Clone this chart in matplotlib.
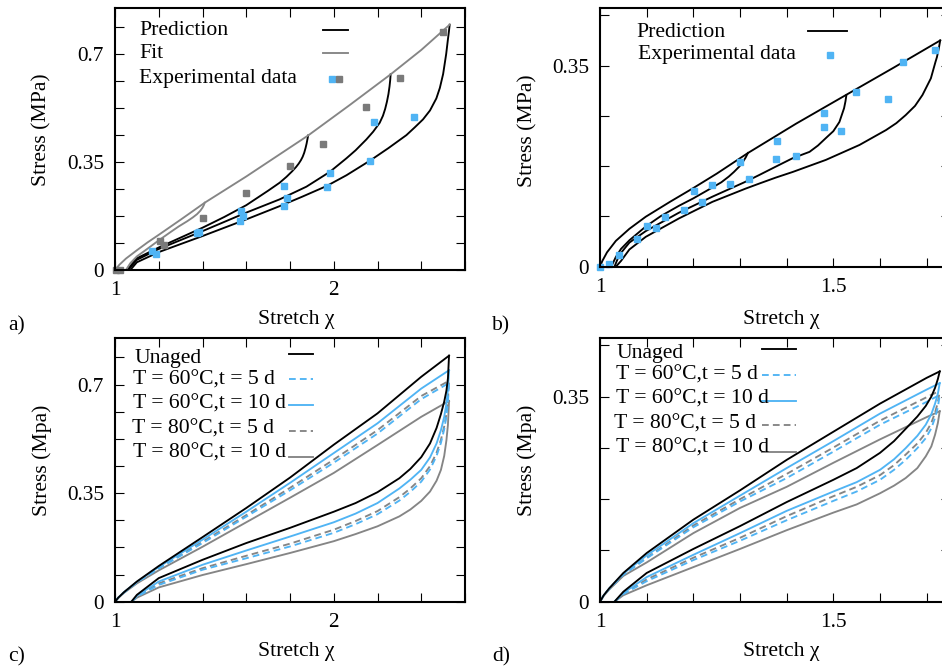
import matplotlib
matplotlib.use('Agg')
import matplotlib.pyplot as plt
from matplotlib.ticker import MultipleLocator, FuncFormatter

plt.rcParams['font.family'] = ['Liberation Serif', 'DejaVu Serif']
plt.rcParams['font.size'] = 15.6

BLACK = '#000000'
GRAY = '#858585'
BLUE = '#50b4f4'

# ---------------- panel a ----------------
A_FIT_LOAD_X = [1.0, 1.02, 1.05, 1.1, 1.15, 1.2, 1.3, 1.41, 1.6, 1.883, 2.07, 2.26, 2.4, 2.53]
A_FIT_LOAD_Y = [0, 0.017, 0.037, 0.064, 0.09, 0.114, 0.163, 0.218, 0.303, 0.436, 0.533, 0.634, 0.713, 0.795]
A_FIT_UNLOAD_X = [1.41, 1.406, 1.4, 1.39, 1.375, 1.355, 1.33, 1.291, 1.25, 1.2, 1.139, 1.1, 1.07, 1.05]
A_FIT_UNLOAD_Y = [0.218, 0.21, 0.202, 0.192, 0.181, 0.17, 0.158, 0.141, 0.121, 0.096, 0.064, 0.044, 0.022, 0.0]
A_PRED1_X = [1.883, 1.880, 1.876, 1.871, 1.865, 1.858, 1.85, 1.84, 1.828, 1.81, 1.784, 1.753, 1.7, 1.6,
             1.5, 1.4, 1.3, 1.2, 1.1, 1.055]
A_PRED1_Y = [0.436, 0.425, 0.41, 0.395, 0.38, 0.367, 0.356, 0.345, 0.334, 0.32, 0.302, 0.283, 0.257, 0.21,
             0.172, 0.137, 0.105, 0.073, 0.038, 0.0]
A_PRED2_X = [2.26, 2.258, 2.255, 2.25, 2.243, 2.235, 2.225, 2.21, 2.18, 2.149, 2.1, 2.058, 1.982, 1.875,
             1.753, 1.6, 1.4, 1.2, 1.1, 1.06]
A_PRED2_Y = [0.634, 0.615, 0.595, 0.57, 0.545, 0.522, 0.5, 0.477, 0.448, 0.423, 0.388, 0.362, 0.318, 0.27,
             0.229, 0.186, 0.126, 0.068, 0.033, 0.0]
A_PRED3_X = [2.53, 2.526, 2.522, 2.514, 2.5, 2.485, 2.469, 2.44, 2.408, 2.37, 2.332, 2.25, 2.167,
             2.058, 1.967, 1.854, 1.753, 1.6, 1.4, 1.2, 1.1, 1.07]
A_PRED3_Y = [0.795, 0.77, 0.748, 0.70, 0.635, 0.59, 0.556, 0.517, 0.488, 0.462, 0.437, 0.395, 0.355,
             0.307, 0.272, 0.237, 0.207, 0.164, 0.11, 0.058, 0.025, 0.0]
A_EXP_BLUE_X = [1.167, 1.187, 1.373, 1.382, 1.575, 1.583, 1.571, 1.773, 1.784, 1.772, 1.985, 1.967, 2.183, 2.167, 2.367]
A_EXP_BLUE_Y = [0.060, 0.053, 0.119, 0.123, 0.191, 0.175, 0.159, 0.272, 0.234, 0.207, 0.315, 0.269, 0.480, 0.352, 0.497]
A_EXP_GRAY_X = [1.005, 1.025, 1.205, 1.224, 1.40, 1.601, 1.802, 1.951, 2.149, 2.301, 2.499]
A_EXP_GRAY_Y = [0.0, 0.0, 0.094, 0.081, 0.17, 0.249, 0.337, 0.409, 0.528, 0.623, 0.771]

# ---------------- panel b ----------------
B_ENV_X = [1.0, 1.005, 1.015, 1.034, 1.063, 1.098, 1.15, 1.2, 1.25, 1.317, 1.42, 1.527, 1.63, 1.729]
B_ENV_Y = [0, 0.01, 0.025, 0.045, 0.066, 0.087, 0.113, 0.137, 0.162, 0.198, 0.249, 0.299, 0.347, 0.394]
B_U1_X = [1.317, 1.312, 1.305, 1.298, 1.287, 1.276, 1.26, 1.241, 1.2, 1.169, 1.13, 1.098, 1.063, 1.045, 1.034, 1.024]
B_U1_Y = [0.198, 0.19, 0.181, 0.174, 0.165, 0.157, 0.147, 0.138, 0.119, 0.106, 0.088, 0.07, 0.046, 0.031, 0.017, 0.0]
B_U2_X = [1.528, 1.526, 1.523, 1.518, 1.513, 1.5, 1.484, 1.467, 1.449, 1.413, 1.376, 1.342, 1.312, 1.241,
          1.169, 1.098, 1.063, 1.041, 1.031]
B_U2_Y = [0.299, 0.288, 0.276, 0.264, 0.252, 0.236, 0.224, 0.211, 0.2, 0.189, 0.174, 0.16, 0.148, 0.122,
          0.094, 0.062, 0.042, 0.02, 0.0]
B_U3_X = [1.729, 1.726, 1.722, 1.719, 1.709, 1.691, 1.675, 1.655, 1.635, 1.613, 1.556, 1.484, 1.413, 1.376,
          1.342, 1.312, 1.241, 1.169, 1.098, 1.063, 1.045, 1.034]
B_U3_Y = [0.394, 0.38, 0.365, 0.357, 0.328, 0.299, 0.28, 0.264, 0.25, 0.238, 0.212, 0.186, 0.165, 0.155,
          0.145, 0.136, 0.113, 0.084, 0.052, 0.03, 0.01, 0.0]
B_EXP_X = [1.0, 1.02, 1.04, 1.08, 1.101, 1.12, 1.139, 1.179, 1.201, 1.218, 1.24, 1.279, 1.299, 1.319,
           1.379, 1.377, 1.419, 1.479, 1.479, 1.517, 1.549, 1.618, 1.649, 1.718]
B_EXP_Y = [0.0, 0.004, 0.020, 0.048, 0.071, 0.067, 0.086, 0.099, 0.131, 0.112, 0.142, 0.144, 0.182, 0.153,
           0.219, 0.188, 0.193, 0.268, 0.244, 0.237, 0.304, 0.292, 0.356, 0.377]

# ---------------- panel c ----------------
C_LOAD_X = [1.0, 1.015, 1.04, 1.1, 1.2, 1.4, 1.6, 1.8, 2.0, 2.2, 2.4, 2.527]
C_UNAGED_LOAD = [0, 0.013, 0.03, 0.065, 0.115, 0.208, 0.302, 0.40, 0.506, 0.607, 0.725, 0.793]
C_60_10_LOAD = [0, 0.013, 0.03, 0.064, 0.112, 0.2, 0.29, 0.383, 0.479, 0.575, 0.687, 0.746]
C_80_5_LOAD = [0, 0.013, 0.03, 0.063, 0.109, 0.193, 0.279, 0.367, 0.458, 0.553, 0.663, 0.712]
C_60_5_LOAD = [0, 0.013, 0.029, 0.062, 0.107, 0.189, 0.274, 0.359, 0.448, 0.542, 0.653, 0.705]
C_80_10_LOAD = [0, 0.012, 0.028, 0.059, 0.101, 0.177, 0.256, 0.335, 0.415, 0.505, 0.596, 0.647]
C_UNLOAD_X = [1.075, 1.1, 1.2, 1.4, 1.6, 1.8, 2.0, 2.1, 2.2, 2.3, 2.35, 2.4, 2.44, 2.47, 2.49,
              2.505, 2.515, 2.522, 2.527]
C_UNAGED_UNLOAD = [0, 0.022, 0.076, 0.135, 0.189, 0.238, 0.29, 0.318, 0.353, 0.398, 0.428, 0.466, 0.51,
                   0.56, 0.605, 0.645, 0.68, 0.72, 0.793]
C_60_10_UNLOAD = [0, 0.019, 0.065, 0.119, 0.165, 0.21, 0.256, 0.284, 0.318, 0.365, 0.393, 0.425, 0.465,
                  0.51, 0.553, 0.596, 0.638, 0.685, 0.746]
C_80_5_UNLOAD = [0, 0.017, 0.059, 0.108, 0.148, 0.187, 0.232, 0.26, 0.292, 0.337, 0.365, 0.398, 0.437,
                 0.48, 0.522, 0.565, 0.605, 0.652, 0.712]
C_60_5_UNLOAD = [0, 0.016, 0.054, 0.103, 0.14, 0.178, 0.222, 0.25, 0.282, 0.326, 0.354, 0.387, 0.426,
                 0.47, 0.512, 0.556, 0.597, 0.645, 0.705]
C_80_10_UNLOAD = [0, 0.013, 0.046, 0.086, 0.121, 0.157, 0.195, 0.218, 0.243, 0.275, 0.297, 0.325, 0.355,
                  0.39, 0.425, 0.47, 0.52, 0.57, 0.647]

# ---------------- panel d ----------------
D_LOAD_X = [1.0, 1.008, 1.02, 1.05, 1.1, 1.2, 1.3, 1.4, 1.5, 1.6, 1.7, 1.728]
D_UNAGED_LOAD = [0, 0.011, 0.023, 0.049, 0.083, 0.14, 0.19, 0.242, 0.29, 0.338, 0.382, 0.393]
D_60_10_LOAD = [0, 0.011, 0.023, 0.048, 0.079, 0.134, 0.181, 0.228, 0.274, 0.321, 0.362, 0.373]
D_80_5_LOAD = [0, 0.011, 0.022, 0.047, 0.075, 0.13, 0.175, 0.218, 0.263, 0.309, 0.349, 0.36]
D_60_5_LOAD = [0, 0.011, 0.022, 0.046, 0.074, 0.127, 0.171, 0.211, 0.256, 0.302, 0.341, 0.353]
D_80_10_LOAD = [0, 0.01, 0.021, 0.044, 0.067, 0.117, 0.16, 0.196, 0.237, 0.277, 0.315, 0.325]
D_UNLOAD_X = [1.031, 1.05, 1.1, 1.2, 1.3, 1.4, 1.5, 1.55, 1.6, 1.63, 1.655, 1.68, 1.698, 1.71, 1.718,
              1.724, 1.728]
D_UNAGED_UNLOAD = [0, 0.017, 0.049, 0.09, 0.129, 0.17, 0.208, 0.228, 0.254, 0.274, 0.295, 0.316, 0.334,
                   0.35, 0.365, 0.38, 0.393]
D_60_10_UNLOAD = [0, 0.015, 0.042, 0.08, 0.117, 0.155, 0.188, 0.204, 0.225, 0.243, 0.262, 0.283, 0.302,
                  0.32, 0.338, 0.355, 0.373]
D_80_5_UNLOAD = [0, 0.014, 0.038, 0.075, 0.109, 0.146, 0.18, 0.196, 0.216, 0.233, 0.251, 0.27, 0.288,
                 0.305, 0.323, 0.34, 0.36]
D_60_5_UNLOAD = [0, 0.013, 0.035, 0.071, 0.104, 0.139, 0.172, 0.188, 0.208, 0.225, 0.242, 0.262, 0.279,
                 0.296, 0.314, 0.332, 0.353]
D_80_10_UNLOAD = [0, 0.011, 0.028, 0.059, 0.09, 0.122, 0.152, 0.166, 0.185, 0.198, 0.211, 0.228, 0.248,
                  0.265, 0.285, 0.305, 0.325]

AGED_LABELS = ['Unaged', 'T = 60°C,t = 5 d', 'T = 60°C,t = 10 d', 'T = 80°C,t = 5 d', 'T = 80°C,t = 10 d']

LW = 1.35
DASH = (0, (3.6, 2.2))
TXT = 15.6
TICK = 15.3

fig = plt.figure(figsize=(9.42, 6.70), dpi=100)
FW, FH = 942.0, 670.0


def box(left, top, w, h):
    return [left / FW, 1 - (top + h) / FH, w / FW, h / FH]


axA = fig.add_axes(box(115, 7.7, 350, 262.3))
axB = fig.add_axes(box(600, 8.3, 350, 258.4))
axC = fig.add_axes(box(115, 338.0, 350, 263.7))
axD = fig.add_axes(box(600, 338.0, 350, 263.7))

fmt = FuncFormatter(lambda v, p: ('%g' % round(v, 4)))


def style(ax, xlim, ylim, xmaj, xmin, ylab, ylc, xlc):
    ax.set_xlim(*xlim)
    ax.set_ylim(*ylim)
    ax.xaxis.set_major_locator(MultipleLocator(xmaj))
    ax.xaxis.set_minor_locator(MultipleLocator(xmin))
    ax.yaxis.set_major_locator(MultipleLocator(0.35))
    ax.yaxis.set_minor_locator(MultipleLocator(0.0875))
    ax.xaxis.set_major_formatter(fmt)
    ax.yaxis.set_major_formatter(fmt)
    ax.tick_params(which='both', direction='in', top=True, right=True, length=6.5, width=0.8)
    ax.tick_params(axis='x', which='major', pad=8, labelsize=TICK)
    ax.tick_params(axis='y', which='major', pad=8, labelsize=TICK)
    for s in ax.spines.values():
        s.set_linewidth(1.5)
    ax.set_ylabel(ylab, va='center', fontsize=TXT)
    ax.yaxis.set_label_coords(*ylc)
    ax.set_xlabel('Stretch χ', va='center', fontsize=TXT)
    ax.xaxis.set_label_coords(*xlc)


# ----- panel a drawing -----
axA.plot(A_PRED1_X, A_PRED1_Y, color=BLACK, lw=LW)
axA.plot(A_PRED2_X, A_PRED2_Y, color=BLACK, lw=LW)
axA.plot(A_PRED3_X, A_PRED3_Y, color=BLACK, lw=LW)
axA.plot(A_FIT_LOAD_X, A_FIT_LOAD_Y, color=GRAY, lw=LW)
axA.plot(A_FIT_UNLOAD_X, A_FIT_UNLOAD_Y, color=GRAY, lw=LW)
axA.plot(A_EXP_GRAY_X, A_EXP_GRAY_Y, ls='none', marker='s', ms=5, color='#7a7a7a', clip_on=False)
axA.plot(A_EXP_BLUE_X, A_EXP_BLUE_Y, ls='none', marker='s', ms=5, color=BLUE, clip_on=False)
style(axA, (1, 2.6), (0, 0.85), 1.0, 0.2, 'Stress (MPa)', (-0.209, 0.534), (0.519, -0.19))

tA = axA.transAxes
axA.text(0.069, 0.912, 'Prediction', transform=tA, va='center', ha='left', fontsize=TXT)
axA.text(0.069, 0.824, 'Fit', transform=tA, va='center', ha='left', fontsize=TXT)
axA.text(0.069, 0.729, 'Experimental data', transform=tA, va='center', ha='left', fontsize=TXT)
axA.plot([0.594, 0.666], [0.916, 0.916], transform=tA, color=BLACK, lw=LW)
axA.plot([0.594, 0.666], [0.828, 0.828], transform=tA, color=GRAY, lw=LW)
axA.plot([0.619], [0.729], transform=tA, marker='s', ms=5, color=BLUE, ls='none')
axA.plot([0.639], [0.729], transform=tA, marker='s', ms=5, color='#7a7a7a', ls='none')

# ----- panel b drawing -----
axB.plot(B_ENV_X, B_ENV_Y, color=BLACK, lw=LW)
axB.plot(B_U1_X, B_U1_Y, color=BLACK, lw=LW)
axB.plot(B_U2_X, B_U2_Y, color=BLACK, lw=LW)
axB.plot(B_U3_X, B_U3_Y, color=BLACK, lw=LW)
axB.plot(B_EXP_X, B_EXP_Y, ls='none', marker='s', ms=5, color=BLUE, clip_on=False)
style(axB, (1, 1.75), (0, 0.45), 0.5, 0.1, 'Stress (MPa)', (-0.207, 0.526), (0.519, -0.205))

tB = axB.transAxes
axB.text(0.105, 0.908, 'Prediction', transform=tB, va='center', ha='left', fontsize=TXT)
axB.text(0.108, 0.82, 'Experimental data', transform=tB, va='center', ha='left', fontsize=TXT)
axB.plot([0.594, 0.706], [0.911, 0.911], transform=tB, color=BLACK, lw=LW)
axB.plot([0.657], [0.82], transform=tB, marker='s', ms=5, color=BLUE, ls='none')

# ----- panels c, d drawing -----
STYLES = [dict(color=BLACK, lw=LW),
          dict(color=BLUE, lw=LW, ls=DASH),
          dict(color=BLUE, lw=LW),
          dict(color=GRAY, lw=LW, ls=DASH),
          dict(color=GRAY, lw=LW)]


def draw_aged(ax, lx, ux, loads, unloads):
    order = [4, 3, 1, 2, 0]
    for i in order:
        ax.plot(lx, loads[i], **STYLES[i])
        ax.plot(ux, unloads[i], **STYLES[i])


draw_aged(axC, C_LOAD_X, C_UNLOAD_X,
          [C_UNAGED_LOAD, C_60_5_LOAD, C_60_10_LOAD, C_80_5_LOAD, C_80_10_LOAD],
          [C_UNAGED_UNLOAD, C_60_5_UNLOAD, C_60_10_UNLOAD, C_80_5_UNLOAD, C_80_10_UNLOAD])
style(axC, (1, 2.6), (0, 0.85), 1.0, 0.2, 'Stress (Mpa)', (-0.209, 0.537), (0.519, -0.19))

draw_aged(axD, D_LOAD_X, D_UNLOAD_X,
          [D_UNAGED_LOAD, D_60_5_LOAD, D_60_10_LOAD, D_80_5_LOAD, D_80_10_LOAD],
          [D_UNAGED_UNLOAD, D_60_5_UNLOAD, D_60_10_UNLOAD, D_80_5_UNLOAD, D_80_10_UNLOAD])
style(axD, (1, 1.75), (0, 0.45), 0.5, 0.1, 'Stress (Mpa)', (-0.209, 0.537), (0.519, -0.19))


def aged_legend(ax, tx, ty, hx, hy):
    t = ax.transAxes
    for i, lab in enumerate(AGED_LABELS):
        ax.text(tx[i], ty[i], lab, transform=t, va='center', ha='left', fontsize=TXT)
        ax.plot(hx, [hy[i], hy[i]], transform=t, **STYLES[i])


aged_legend(axC, [0.057, 0.051, 0.051, 0.048, 0.051], [0.924, 0.841, 0.749, 0.654, 0.565],
            [0.497, 0.566], [0.939, 0.844, 0.745, 0.648, 0.549])
aged_legend(axD, [0.048, 0.045, 0.045, 0.04, 0.045], [0.943, 0.86, 0.768, 0.673, 0.584],
            [0.462, 0.56], [0.958, 0.859, 0.762, 0.670, 0.569])

fig.text(8 / FW, 1 - 326 / FH, 'a)', ha='left', va='center', fontsize=TXT)
fig.text(492 / FW, 1 - 326 / FH, 'b)', ha='left', va='center', fontsize=TXT)
fig.text(8 / FW, 1 - 657 / FH, 'c)', ha='left', va='center', fontsize=TXT)
fig.text(492 / FW, 1 - 657 / FH, 'd)', ha='left', va='center', fontsize=TXT)

fig.savefig('out.png', dpi=100)
